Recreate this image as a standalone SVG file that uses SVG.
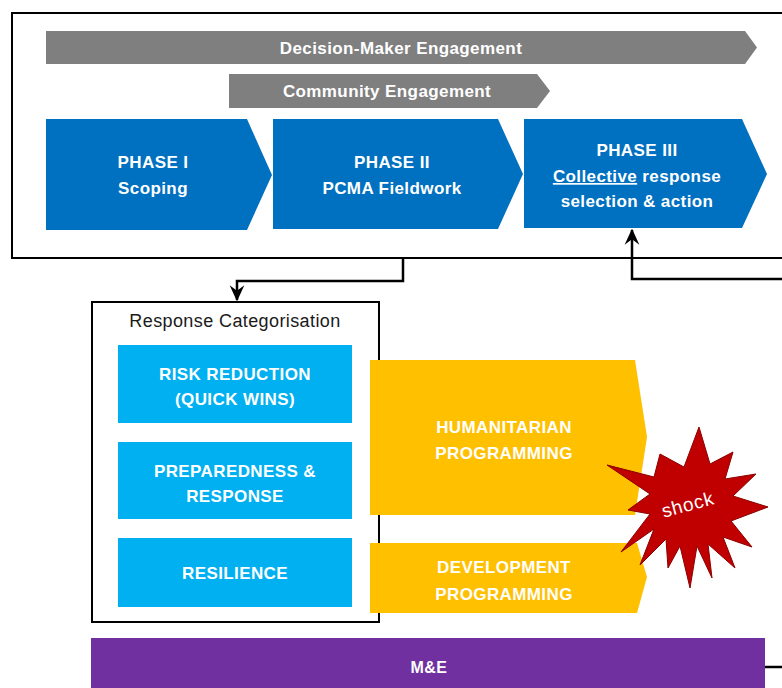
<svg xmlns="http://www.w3.org/2000/svg" width="782" height="688" viewBox="0 0 782 688">
<defs>
<style>
.t{font-family:"Liberation Sans",Arial,sans-serif;font-weight:bold;fill:#ffffff;text-anchor:middle;letter-spacing:0.4px}
.big{font-size:17px}
.gray{fill:#7f7f7f}
.phase{fill:#0070c0}
.cat{fill:#00b0f0}
.prog{fill:#ffc000}
.line{fill:none;stroke:#000;stroke-width:2.5}
</style>
<marker id="ah" markerWidth="16" markerHeight="16" viewBox="0 0 12 12" refX="11" refY="6" orient="auto" markerUnits="userSpaceOnUse">
<path d="M0,0.5 L12,6 L0,11.5 L4,6 z" fill="#000"/>
</marker>
</defs>
<rect width="782" height="688" fill="#ffffff"/>

<g id="top-frame">
<rect x="12" y="13" width="800" height="245" fill="#ffffff" stroke="#000" stroke-width="2"/>
</g>

<g id="decision-maker-engagement">
<polygon class="gray" points="46,31 745,31 757,47.5 745,64 46,64"/>
<text class="t big" x="401" y="54" fill="#f2f2f2">Decision-Maker Engagement</text>
</g>

<g id="community-engagement">
<polygon class="gray" points="229,74 537,74 550,91 537,108 229,108"/>
<text class="t big" x="387" y="97">Community Engagement</text>
</g>

<g id="phase-1">
<polygon class="phase" points="46,119 247,119 272,175 247,230 46,230"/>
<text class="t big" x="153" y="168">PHASE I</text>
<text class="t big" x="153" y="194">Scoping</text>
</g>

<g id="phase-2">
<polygon class="phase" points="273,119 498,119 523,174 498,229 273,229"/>
<text class="t big" x="392" y="168">PHASE II</text>
<text class="t big" x="392" y="194">PCMA Fieldwork</text>
</g>

<g id="phase-3">
<polygon class="phase" points="524,119 742,119 767,174 742,228 524,228"/>
<text class="t big" x="637" y="156">PHASE III</text>
<text class="t big" x="637" y="182"><tspan text-decoration="underline">Collective</tspan> response</text>
<text class="t big" x="637" y="207">selection &amp; action</text>
</g>

<g id="response-categorisation">
<rect x="92" y="302" width="287" height="320" fill="#ffffff" stroke="#000" stroke-width="2"/>
<text x="235" y="327" font-family="'Liberation Sans',Arial,sans-serif" font-size="18" letter-spacing="0.4" fill="#1a1a1a" text-anchor="middle">Response Categorisation</text>
</g>

<g id="risk-reduction">
<rect class="cat" x="118" y="345" width="234" height="78"/>
<text class="t big" x="235" y="380">RISK REDUCTION</text>
<text class="t big" x="235" y="405">(QUICK WINS)</text>
</g>

<g id="preparedness-response">
<rect class="cat" x="118" y="442" width="234" height="77"/>
<text class="t big" x="235" y="477">PREPAREDNESS &amp;</text>
<text class="t big" x="235" y="502">RESPONSE</text>
</g>

<g id="resilience">
<rect class="cat" x="118" y="538" width="234" height="69"/>
<text class="t big" x="235" y="579">RESILIENCE</text>
</g>

<g id="humanitarian-programming">
<polygon class="prog" points="370,360 635,360 647,437 635,515 370,515"/>
<text class="t big" x="504" y="433">HUMANITARIAN</text>
<text class="t big" x="504" y="459">PROGRAMMING</text>
</g>

<g id="development-programming">
<polygon class="prog" points="370,543 637,543 647,577 637,613 370,613"/>
<text class="t big" x="504" y="573">DEVELOPMENT</text>
<text class="t big" x="504" y="600">PROGRAMMING</text>
</g>

<g id="shock">
<polygon fill="#c00000" stroke="#8b0000" stroke-width="1" points="699,427 710,464 733,452 725,479 756,474 733,496 768,507 731,521 752,547 723,537 735,568 708,544 712,578 697,546 690,588 680,546 668,568 666,539 640,565 654,529 621,552 650,514 628,510 650,494 607,465 654,477 660,454 684,467"/>
<text x="688" y="511" transform="rotate(-15 688 505)" font-family="'Liberation Sans',Arial,sans-serif" font-size="19" letter-spacing="0.8" fill="#ffffff" text-anchor="middle">shock</text>
</g>

<g id="m-and-e">
<rect x="91" y="638" width="674" height="60" fill="#7030a0"/>
<text class="t" x="429" y="673" font-size="16">M&amp;E</text>
</g>

<g id="connectors">
<polyline class="line" points="403,258 403,281 237,281 237,300" marker-end="url(#ah)"/>
<polyline class="line" points="790,279 632,279 632,230" marker-end="url(#ah)"/>
<line class="line" x1="765" y1="667" x2="790" y2="667"/>
</g>
</svg>
